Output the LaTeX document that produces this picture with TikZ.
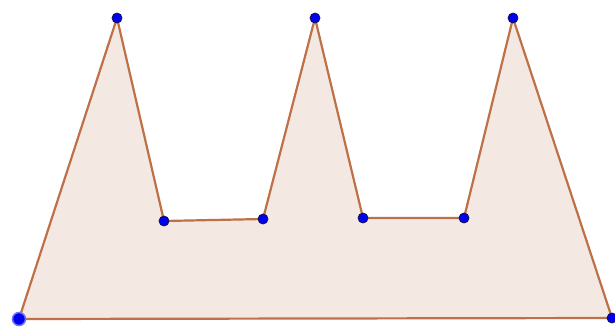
\documentclass[tikz,border=0pt]{standalone}
\definecolor{edgec}{RGB}{190,112,72}
\definecolor{fillc}{RGB}{244,232,226}
\definecolor{ptc}{RGB}{0,0,240}
\definecolor{ptd}{RGB}{20,20,80}
\tikzset{pt/.style={circle,fill=ptc,draw=ptd,line width=0.8pt,inner sep=0pt,minimum size=10pt},
bigpt/.style={pt,minimum size=13pt,draw=ptc!55!white,line width=1.5pt}}
\begin{document}
\begin{tikzpicture}[x=1pt,y=-1pt]
\useasboundingbox (0,0) rectangle (615,329);
\coordinate (A) at (19,319);
\coordinate (B) at (117,18);
\coordinate (C) at (164,221);
\coordinate (D) at (263,219);
\coordinate (E) at (315,18);
\coordinate (F) at (363,218);
\coordinate (G) at (464,218);
\coordinate (H) at (513,18);
\coordinate (I) at (612,318);
\draw[edgec,fill=fillc,line width=2.2pt,line join=round] (A) -- (B) -- (C) -- (D) -- (E) -- (F) -- (G) -- (H) -- (I) -- cycle;
\foreach \p in {B,C,D,E,F,G,H,I} \node[pt] at (\p) {};
\node[bigpt] at (A) {};
\end{tikzpicture}
\end{document}
